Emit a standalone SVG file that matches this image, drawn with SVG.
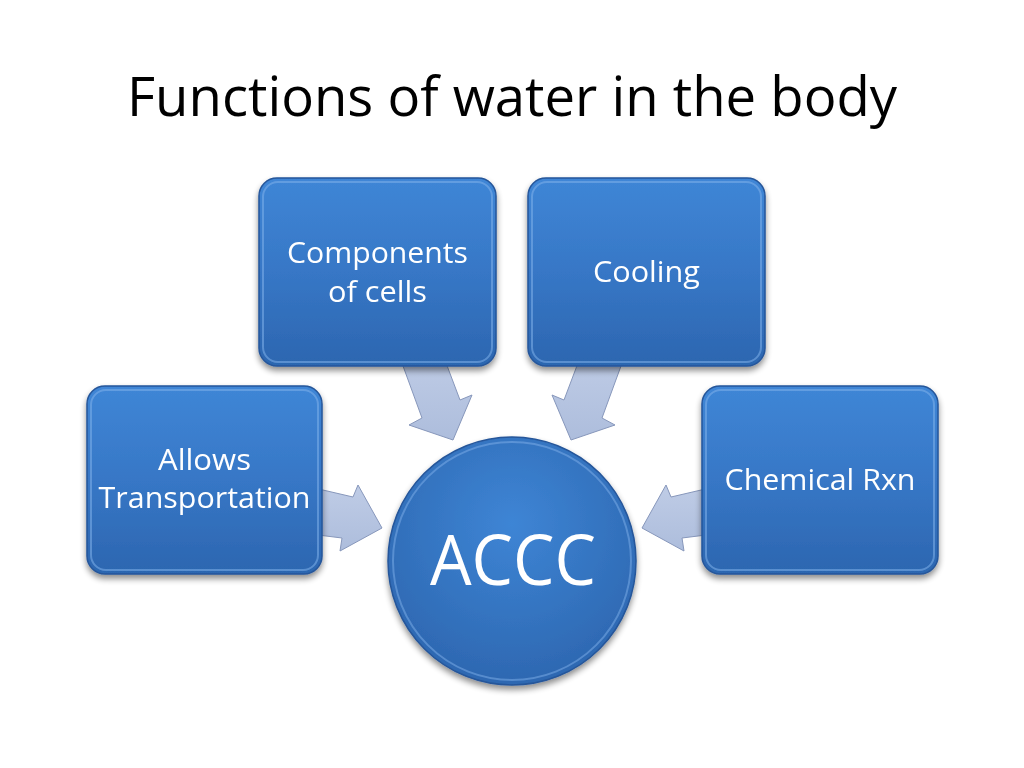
<svg xmlns="http://www.w3.org/2000/svg" width="1024" height="768" viewBox="0 0 1024 768">
<defs>
<linearGradient id="boxg" x1="0" y1="0" x2="0" y2="1">
<stop offset="0" stop-color="#3f86d6"/>
<stop offset="0.5" stop-color="#3777c6"/>
<stop offset="1" stop-color="#2c66b0"/>
</linearGradient>
<radialGradient id="circg" cx="0.5" cy="0.35" r="0.7">
<stop offset="0" stop-color="#3e85d5"/>
<stop offset="1" stop-color="#2c65ae"/>
</radialGradient>
<linearGradient id="arrg" x1="0" y1="0" x2="0" y2="1">
<stop offset="0" stop-color="#bfcce6"/>
<stop offset="1" stop-color="#adbddc"/>
</linearGradient>
<filter id="sh" x="-20%" y="-20%" width="140%" height="150%">
<feGaussianBlur in="SourceAlpha" stdDeviation="3"/>
<feOffset dx="0" dy="4" result="b"/>
<feComponentTransfer><feFuncA type="linear" slope="0.45"/></feComponentTransfer>
<feMerge><feMergeNode/><feMergeNode in="SourceGraphic"/></feMerge>
</filter>
</defs>
<style>
.box{fill:url(#boxg);stroke:#25569a;stroke-width:1.5}
.hl{fill:none;stroke:#7fb0ea;stroke-width:2;opacity:0.55}
.lbl{font-family:"Open Sans","Liberation Sans",sans-serif;fill:#ffffff;text-anchor:middle}
.arr{fill:url(#arrg);stroke:#8797bb;stroke-width:1}
</style>
<rect width="1024" height="768" fill="#ffffff"/>
<text x="512" y="116" font-family="'Open Sans','Liberation Sans',sans-serif" font-size="55" fill="#000000" text-anchor="middle" textLength="770" lengthAdjust="spacingAndGlyphs">Functions of water in the body</text>

<g id="connectors">
<polygon class="arr" points="310,487 353,497 358,485 382,528 340,551 342,538 310,534"/>
<polygon class="arr" points="399,355 443,355 460,400 472,395 453,440 409,425 422,418"/>
<polygon class="arr" points="625,355 581,355 564,400 552,395 571,440 615,425 602,418"/>
<polygon class="arr" points="714,487 671,497 666,485 642,528 684,551 682,538 714,534"/>
</g>

<g id="node-transport" filter="url(#sh)">
<rect class="box" x="87" y="386" width="235" height="188" rx="18"/>
<rect class="hl" x="91" y="390" width="227" height="180" rx="15"/>
<text class="lbl" font-size="29" x="204.5" y="470" textLength="93" lengthAdjust="spacingAndGlyphs">Allows</text>
<text class="lbl" font-size="29" x="204.5" y="508" textLength="212" lengthAdjust="spacingAndGlyphs">Transportation</text>
</g>

<g id="node-components" filter="url(#sh)">
<rect class="box" x="259" y="178" width="237" height="188" rx="18"/>
<rect class="hl" x="263" y="182" width="229" height="180" rx="15"/>
<text class="lbl" font-size="29" x="377.5" y="263" textLength="181" lengthAdjust="spacingAndGlyphs">Components</text>
<text class="lbl" font-size="29" x="377.5" y="302" textLength="99" lengthAdjust="spacingAndGlyphs">of cells</text>
</g>

<g id="node-cooling" filter="url(#sh)">
<rect class="box" x="528" y="178" width="237" height="188" rx="18"/>
<rect class="hl" x="532" y="182" width="229" height="180" rx="15"/>
<text class="lbl" font-size="29" x="646.5" y="282" textLength="107" lengthAdjust="spacingAndGlyphs">Cooling</text>
</g>

<g id="node-chemical" filter="url(#sh)">
<rect class="box" x="702" y="386" width="236" height="188" rx="18"/>
<rect class="hl" x="706" y="390" width="228" height="180" rx="15"/>
<text class="lbl" font-size="29" x="820" y="490" textLength="191" lengthAdjust="spacingAndGlyphs">Chemical Rxn</text>
</g>

<g id="node-accc" filter="url(#sh)">
<circle cx="512" cy="561" r="124" fill="url(#circg)" stroke="#25569a" stroke-width="1.5"/>
<circle cx="512" cy="561" r="119" fill="none" stroke="#7fb0ea" stroke-width="2" opacity="0.5"/>
<text class="lbl" font-size="70" x="513" y="585" textLength="166" lengthAdjust="spacingAndGlyphs">ACCC</text>
</g>
</svg>
